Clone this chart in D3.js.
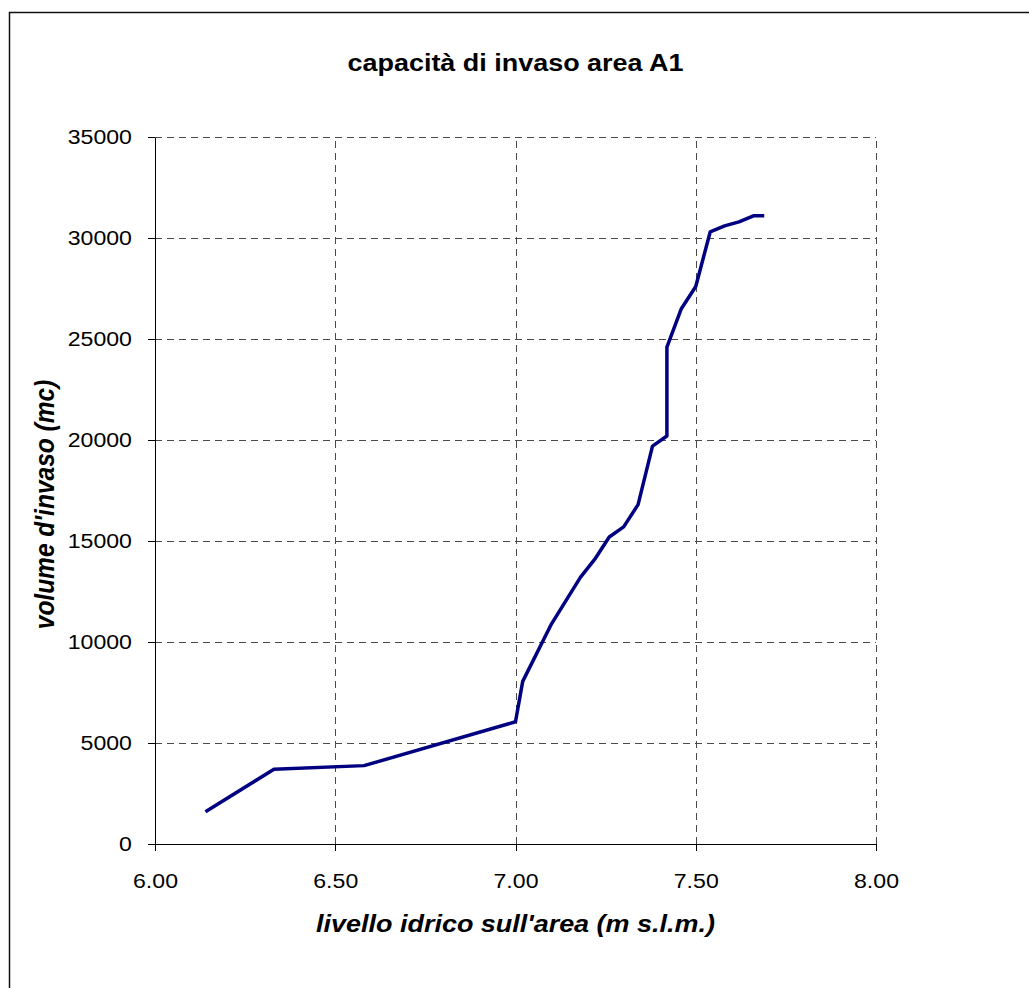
<!DOCTYPE html>
<html lang="it">
<head>
  <meta charset="UTF-8">
  <title>capacità di invaso area A1</title>
  <style>
      body { margin: 0; background: #fff; }
      .grid line { stroke: #4a4a4a; stroke-dasharray: 7,5; shape-rendering: crispEdges; }
      .grid path { stroke-width: 0; }
      .axis path, .axis line { stroke: #000; shape-rendering: crispEdges; }
      .axis text { font-family: "Liberation Sans", Arial, sans-serif; font-size: 21px; fill: #000; }
      .lbl { font-family: "Liberation Sans", Arial, sans-serif; font-weight: bold; font-size: 24.5px; }
  </style>
</head>
<body>
<div id="chart"></div>
<script src="https://d3js.org/d3.v7.min.js"></script>
<script>
  // livello idrico (m s.l.m.) e volume d'invaso (mc)
  const livello = [6.14, 6.33, 6.58, 7.00, 7.02, 7.10, 7.18, 7.22, 7.26, 7.30, 7.34, 7.38, 7.42, 7.42, 7.46, 7.50, 7.54, 7.58, 7.62, 7.66, 7.69];
  const volume  = [1600, 3700, 3880, 6050, 8050, 10900, 13200, 14100, 15200, 15700, 16800, 19700, 20200, 24600, 26500, 27600, 30300, 30600, 30800, 31100, 31100];
  const xTicks = [6.0, 6.5, 7.0, 7.5, 8.0];
  const yTicks = [0, 5000, 10000, 15000, 20000, 25000, 30000, 35000];

  const W = 1029, H = 988;
  const margin = {top: 137, right: 153, bottom: 144, left: 155},
    width = W - margin.left - margin.right,
    height = H - margin.top - margin.bottom;
  const sx = 1.1;  // il testo originale è leggermente allargato

  const root = d3.select("#chart").append("svg")
    .attr("width", W)
    .attr("height", H);

  // cornice del grafico (solo lati sinistro e superiore visibili)
  root.append("path")
    .attr("d", `M9.5,${H} L9.5,12.5 L${W},12.5`)
    .attr("fill", "none")
    .attr("stroke", "#111")
    .attr("stroke-width", 1.5);

  const svg = root.append("g")
    .attr("transform", `translate(${margin.left},${margin.top})`);

  const x = d3.scaleLinear().domain([6, 8]).range([0, width]);
  const y = d3.scaleLinear().domain([0, 35000]).range([height, 0]);

  // griglia tratteggiata
  svg.append("g")
    .attr("class", "grid")
    .call(d3.axisLeft(y).tickValues(yTicks.slice(1)).tickSize(-width).tickFormat(""));

  svg.append("g")
    .attr("class", "grid")
    .attr("transform", `translate(0,${height})`)
    .call(d3.axisBottom(x).tickValues(xTicks.slice(1)).tickSize(-height).tickFormat(""));

  // assi
  svg.append("g")
    .attr("class", "axis")
    .attr("transform", `translate(0,${height})`)
    .call(d3.axisBottom(x).tickValues(xTicks).tickSize(7).tickPadding(22).tickSizeOuter(0)
      .tickFormat(d3.format(".2f")))
    .selectAll("text").attr("transform", `scale(${sx},1)`);

  svg.append("g")
    .attr("class", "axis")
    .call(d3.axisLeft(y).tickValues(yTicks).tickSize(7).tickPadding(14).tickSizeOuter(0)
      .tickFormat(d3.format("d")))
    .selectAll("text").attr("transform", `scale(${sx},1)`);

  // linea
  const line = d3.line()
    .x((d, i) => x(livello[i]))
    .y(d => y(d));

  svg.append("path")
    .datum(volume)
    .attr("fill", "none")
    .attr("stroke", "#000080")
    .attr("stroke-width", 3.5)
    .attr("stroke-linejoin", "round")
    .attr("d", line);

  // titoli
  svg.append("text")
    .attr("class", "lbl")
    .attr("transform", `translate(${width / 2},-66) scale(${sx},1)`)
    .attr("text-anchor", "middle")
    .text("capacità di invaso area A1");

  svg.append("text")
    .attr("class", "lbl")
    .attr("transform", `translate(${width / 2},${height + 88}) scale(${sx},1)`)
    .attr("text-anchor", "middle")
    .style("font-style", "italic")
    .text("livello idrico sull'area (m s.l.m.)");

  svg.append("text")
    .attr("class", "lbl")
    .attr("transform", `translate(-101,${height / 2 + 14}) scale(${sx},1) rotate(-90)`)
    .attr("text-anchor", "middle")
    .style("font-style", "italic")
    .text("volume d'invaso (mc)");
</script>
</body>
</html>
